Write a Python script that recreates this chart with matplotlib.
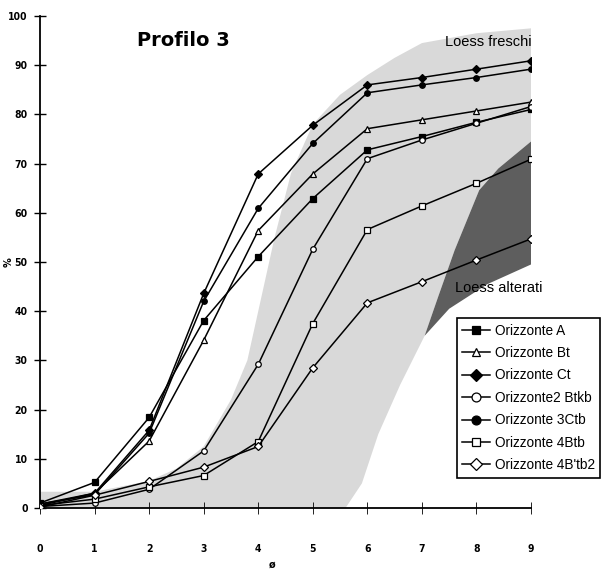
import matplotlib
matplotlib.use("Agg")
import matplotlib.pyplot as plt
from matplotlib.patches import Polygon

# classi granulometriche (phi)
phi = [0, 1, 2, 3, 4, 5, 6, 7, 8, 9]

# percentuali cumulative per orizzonte
oriz_A = [1.0, 5.2, 18.4, 38.1, 51.1, 62.9, 72.8, 75.5, 78.4, 81.0]
oriz_Bt = [0.5, 3.0, 13.6, 34.1, 56.4, 67.9, 77.1, 78.9, 80.7, 82.5]
oriz_Ct = [0.8, 3.0, 15.8, 43.6, 67.9, 77.8, 86.0, 87.5, 89.2, 90.9]
oriz_2Btkb = [0.3, 1.0, 3.8, 11.6, 29.2, 52.6, 71.0, 74.8, 78.2, 81.6]
oriz_3Ctb = [0.8, 2.7, 15.2, 42.0, 60.9, 74.1, 84.4, 86.0, 87.5, 89.2]
oriz_4Btb = [0.5, 1.8, 4.3, 6.6, 13.5, 37.5, 56.6, 61.4, 66.0, 70.9]
oriz_4Btb2 = [0.2, 2.6, 5.4, 8.3, 12.5, 28.5, 41.7, 46.0, 50.4, 54.7]

# campi di riferimento (x, %)
freschi_x = [0, 5.6, 5.9, 6.2, 6.6, 7.05, 7.3, 7.6, 8.05, 8.4, 9, 9, 8, 7, 6.5, 6, 5.5, 5,
             4.6, 4.3, 4, 3.8, 3.5, 3, 2.5, 2, 1, 0]
freschi_y = [0, 0, 5, 15, 25, 35, 43, 52.4, 64.6, 69, 74.5, 97.5, 96.5, 94.5, 91.5, 88, 84, 78,
             68, 55, 40, 30, 22, 12.5, 8, 5.5, 3.3, 3.3]
alterati_x = [7.05, 7.3, 7.6, 8.05, 8.4, 9, 9, 8.2, 7.5]
alterati_y = [35, 43, 52.4, 64.6, 69, 74.5, 49.5, 45.5, 40.5]

fig = plt.figure(figsize=(6.08, 5.72), dpi=100)
ax = fig.add_axes([0.0658, 0.1119, 0.8076, 0.8601])

ax.add_patch(Polygon(list(zip(freschi_x, freschi_y)), closed=True,
                     facecolor="#d9d9d9", edgecolor="none", zorder=0))
ax.add_patch(Polygon(list(zip(alterati_x, alterati_y)), closed=True,
                     facecolor="#5e5e5e", edgecolor="none", zorder=1))

serie = [
    (oriz_A, "s", "black", "Orizzonte A"),
    (oriz_Bt, "^", "white", "Orizzonte Bt"),
    (oriz_Ct, "D", "black", "Orizzonte Ct"),
    (oriz_2Btkb, "o", "white", "Orizzonte2 Btkb"),
    (oriz_3Ctb, "o", "black", "Orizzonte 3Ctb"),
    (oriz_4Btb, "s", "white", "Orizzonte 4Btb"),
    (oriz_4Btb2, "D", "white", "Orizzonte 4B'tb2"),
]
for valori, marker, fill, nome in serie:
    ax.plot(phi, valori, color="black", lw=1.1, marker=marker, ms=4,
            mfc=fill, mec="black", mew=0.9, label=nome, zorder=3)

ax.set_xlim(0, 9)
ax.set_ylim(0, 100)
ax.set_xticks(phi)
ax.set_yticks(range(0, 101, 10))
ax.spines["top"].set_visible(False)
ax.spines["right"].set_visible(False)
ax.spines["left"].set_linewidth(1.3)
ax.spines["bottom"].set_linewidth(1.3)
ax.tick_params(axis="y", direction="inout", length=8, width=1, pad=5, labelsize=7.5)
ax.tick_params(axis="x", direction="inout", length=8, width=0.6, pad=22, labelsize=7.5)
for lab in ax.get_xticklabels() + ax.get_yticklabels():
    lab.set_fontweight("bold")
    lab.set_fontstretch("condensed")

ax.set_xlabel("ø", fontsize=7, fontweight="bold")
ax.set_ylabel("%", fontsize=7, fontweight="bold")
ax.xaxis.set_label_coords(0.472, -0.105)
ax.yaxis.set_label_coords(-0.054, 0.5)

ax.text(2.62, 95, "Profilo 3", fontsize=14, fontweight="bold", ha="center", va="center")
ax.text(7.42, 94.7, "Loess freschi", fontsize=10.5, family="Liberation Sans", va="center")
ax.text(7.6, 44.7, "Loess alterati", fontsize=10.5, family="Liberation Sans", va="center")

leg = ax.legend(loc="upper left", bbox_to_anchor=(0.849, 0.386), frameon=True,
                fancybox=False, edgecolor="black", framealpha=1, borderpad=0.4,
                borderaxespad=0, handlelength=2.0, handletextpad=0.4,
                markerscale=1.6, labelspacing=0.62,
                prop={"family": "Liberation Sans", "size": 9.8})
leg.get_frame().set_linewidth(1.2)

fig.savefig("out.png", dpi=100)
